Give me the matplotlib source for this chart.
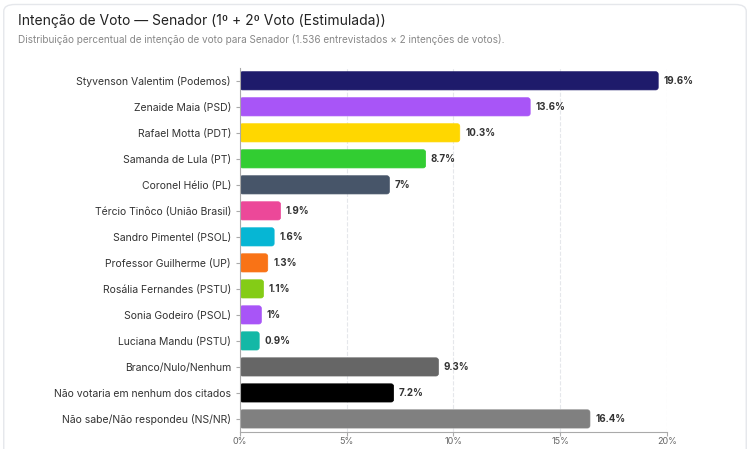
import matplotlib.pyplot as plt
from matplotlib.patches import FancyBboxPatch

plt.rcParams['font.family'] = ['Inter', 'DejaVu Sans']

candidates = ['Styvenson Valentim (Podemos)', 'Zenaide Maia (PSD)', 'Rafael Motta (PDT)',
              'Samanda de Lula (PT)', 'Coronel Hélio (PL)', 'Tércio Tinôco (União Brasil)',
              'Sandro Pimentel (PSOL)', 'Professor Guilherme (UP)', 'Rosália Fernandes (PSTU)',
              'Sonia Godeiro (PSOL)', 'Luciana Mandu (PSTU)', 'Branco/Nulo/Nenhum',
              'Não votaria em nenhum dos citados', 'Não sabe/Não respondeu (NS/NR)']
values = [19.6, 13.6, 10.3, 8.7, 7, 1.9, 1.6, 1.3, 1.1, 1, 0.9, 9.3, 7.2, 16.4]
labels = ['19.6%', '13.6%', '10.3%', '8.7%', '7%', '1.9%', '1.6%', '1.3%', '1.1%', '1%',
          '0.9%', '9.3%', '7.2%', '16.4%']
colors = ['#1e1b6b', '#a855f7', '#ffd700', '#32cd32', '#475569', '#ec4899', '#06b6d4',
          '#f97316', '#84cc16', '#a855f7', '#14b8a6', '#666666', '#000000', '#808080']

fig = plt.figure(figsize=(7.5, 4.49), dpi=100)
card = FancyBboxPatch((0.005, -0.05), 0.99, 1.04, boxstyle='round,pad=0,rounding_size=0.015',
                      transform=fig.transFigure, facecolor='white', edgecolor='#e5e7eb', lw=1, zorder=-10)
fig.patches.append(card)
fig.text(0.024, 0.945, 'Intenção de Voto — Senador (1º + 2º Voto (Estimulada))', fontsize=10, color='#222222')
fig.text(0.024, 0.905, 'Distribuição percentual de intenção de voto para Senador (1.536 entrevistados × 2 intenções de votos).',
         fontsize=7.2, color='#888888')

ax = fig.add_axes([0.32, 0.038, 0.569, 0.811])
ax.set_xlim(0, 20)
ax.set_ylim(len(values) - 0.5, -0.5)
ax.set_facecolor('none')

# keep corners round despite different x/y data scales
aspect = (1 / 26.2) / (20 / 427)
for i, (v, c) in enumerate(zip(values, colors)):
    ax.add_patch(FancyBboxPatch((0, i - 0.35), v, 0.7, boxstyle='round,pad=0,rounding_size=0.12',
                                mutation_aspect=aspect, facecolor=c, edgecolor=c, lw=0.5))
    ax.text(v + 0.25, i, labels[i], va='center', ha='left', fontsize=7, fontweight='bold', color='#333333')

ax.set_yticks(range(len(candidates)))
ax.set_yticklabels(candidates, fontsize=7.5, color='#333333')
ax.set_xticks([0, 5, 10, 15, 20])
ax.set_xticklabels(['0%', '5%', '10%', '15%', '20%'], fontsize=6.5, color='#666666')
ax.grid(axis='x', color='#e5e7eb', linestyle='--', lw=0.8)
ax.set_axisbelow(True)
for s in ['top', 'right']:
    ax.spines[s].set_visible(False)
for s in ['left', 'bottom']:
    ax.spines[s].set_color('#aaaaaa')
ax.tick_params(colors='#aaaaaa', length=3, labelcolor='#333333')
ax.tick_params(axis='x', labelcolor='#666666', pad=1)

fig.savefig('out.png', dpi=100)
